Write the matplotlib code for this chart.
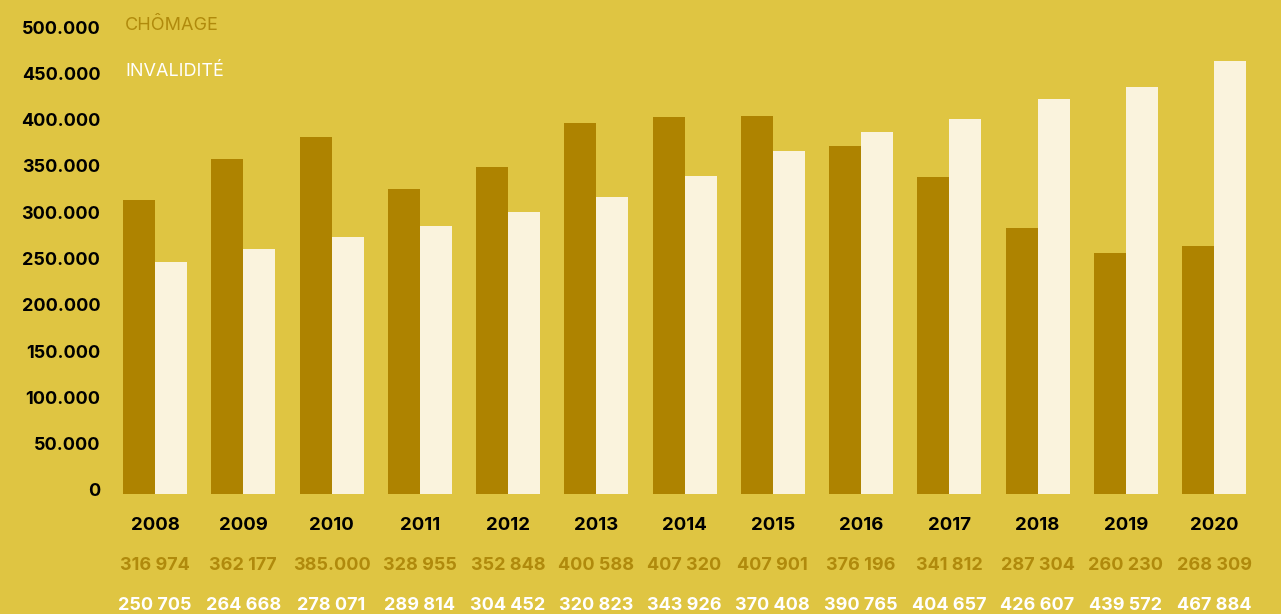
import matplotlib.pyplot as plt
import matplotlib.transforms as mtransforms
import numpy as np

years = ["2008", "2009", "2010", "2011", "2012", "2013", "2014",
         "2015", "2016", "2017", "2018", "2019", "2020"]
chomage = [316974, 362177, 385000, 328955, 352848, 400588, 407320,
           407901, 376196, 341812, 287304, 260230, 268309]
invalidite = [250705, 264668, 278071, 289814, 304452, 320823, 343926,
              370408, 390765, 404657, 426607, 439572, 467884]
chomage_labels = ["316 974", "362 177", "385.000", "328 955", "352 848", "400 588", "407 320",
                  "407 901", "376 196", "341 812", "287 304", "260 230", "268 309"]
invalidite_labels = ["250 705", "264 668", "278 071", "289 814", "304 452", "320 823", "343 926",
                     "370 408", "390 765", "404 657", "426 607", "439 572", "467 884"]
yticks = [0, 50000, 100000, 150000, 200000, 250000, 300000, 350000, 400000, 450000, 500000]
ytick_labels = ["0", "50.000", "100.000", "150.000", "200.000", "250.000", "300.000",
                "350.000", "400.000", "450.000", "500.000"]

BG = "#DFC542"
GOLD = "#AE8300"
CREAM = "#FAF3DD"
GOLD_TXT = "#B08A0C"

plt.rcParams["font.family"] = ["Inter", "DejaVu Sans"]

W, H = 1281, 614
fig = plt.figure(figsize=(W / 100, H / 100), dpi=100, facecolor=BG)
ax = fig.add_axes([110 / W, 120 / H, (1260 - 110) / W, (583 - 120) / H])
ax.set_facecolor(BG)

x = np.arange(len(years))
bw = 32 / 88.25
ax.bar(x - bw / 2, chomage, width=bw, color=GOLD, linewidth=0)
ax.bar(x + bw / 2, invalidite, width=bw, color=CREAM, linewidth=0)

ax.set_xlim(-(155 - 110) / 88.25, 12 + (1260 - 1214) / 88.25)
ax.set_ylim(0, 500000)
ax.set_yticks(yticks)
ax.set_yticklabels(ytick_labels, fontsize=13, fontweight="bold", color="black")
ax.tick_params(axis="y", length=0, pad=7)
ax.set_xticks([])
for lab in ax.get_yticklabels():
    lab.set_transform(lab.get_transform() + mtransforms.ScaledTranslation(0, 4 / 100, fig.dpi_scale_trans))
for s in ax.spines.values():
    s.set_visible(False)

# rows of labels under the bars
trans = mtransforms.blended_transform_factory(ax.transData, fig.transFigure)
for i in range(len(years)):
    ax.text(x[i], 1 - 525 / H, years[i], transform=trans, ha="center", va="center",
            fontsize=13.4, fontweight="bold", color="black")
    ax.text(x[i], 1 - 566 / H, chomage_labels[i], transform=trans, ha="center", va="center",
            fontsize=13, fontweight="bold", color=GOLD_TXT)
    ax.text(x[i], 1 - 605 / H, invalidite_labels[i], transform=trans, ha="center", va="center",
            fontsize=13, fontweight="bold", color="white")

fig.text(125 / W, 1 - 25 / H, "CHÔMAGE", ha="left", va="center", fontsize=13, color=GOLD_TXT)
fig.text(125 / W, 1 - 71 / H, "INVALIDITÉ", ha="left", va="center", fontsize=13, color="white")

fig.savefig("out.png", dpi=100, facecolor=BG)
